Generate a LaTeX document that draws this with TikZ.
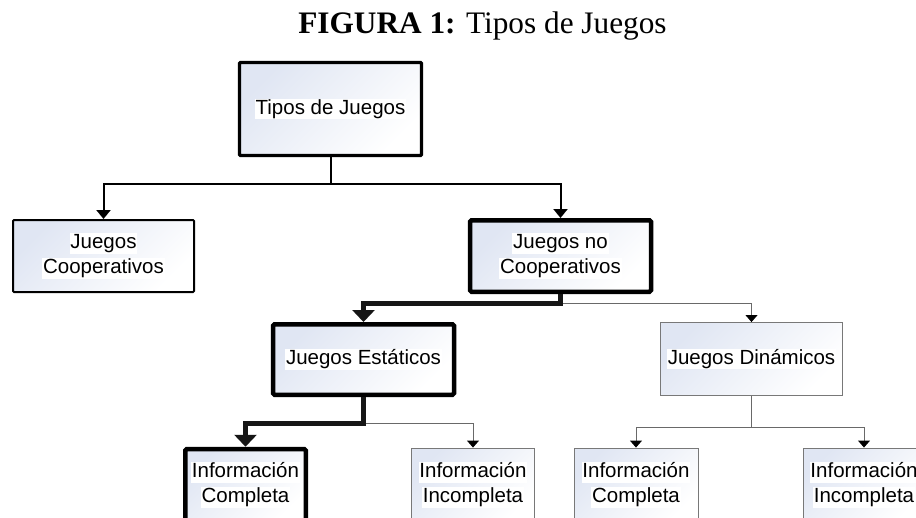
\documentclass[tikz,border=0pt]{standalone}
\usepackage{fontspec}
\setmainfont{Liberation Serif}
\newfontfamily\arialf{Liberation Sans}
\usetikzlibrary{arrows.meta}
\definecolor{boxtop}{RGB}{224,230,243}
\definecolor{thinline}{RGB}{105,105,105}
\definecolor{thinborder}{RGB}{120,120,120}
\definecolor{darkline}{RGB}{22,22,22}
\newcommand{\wb}[1]{{\setlength{\fboxsep}{0.8pt}\colorbox{white}{\vphantom{Jgó}#1}}}
\begin{document}
\begin{tikzpicture}[x=1pt,y=-1pt,
  box/.style={shape=rectangle, top color=boxtop, bottom color=white, shading angle=45,
    align=center, font=\arialf\fontsize{20.5}{25}\selectfont, inner sep=0pt, rounded corners=1pt},
  boldbox/.style={box, draw=black, line width=4.5pt, rounded corners=1.5pt},
  thinbox/.style={box, draw=thinborder, line width=0.9pt, rounded corners=0pt},
  toparrow/.style={draw=black, line width=2pt, -{Triangle[width=14pt,length=9pt]}},
  thickconn/.style={draw=darkline, line width=5.5pt, -{Triangle[width=22pt,length=12pt]}},
  thinconn/.style={draw=thinline, line width=1pt, -{Triangle[width=12pt,length=7pt,color=black]}}
]
\useasboundingbox (0,0) rectangle (916,517);
\fill[white] (0,0) rectangle (916,517);
\clip (0,0) rectangle (916,517);

\node[anchor=base, font=\fontsize{31.3}{36}\selectfont] (title) at (482.5,33) {\textbf{FIGURA 1:} Tipos de Juegos};

\node[box, draw=black, line width=3.3pt, minimum width=182pt, minimum height=93pt] (T) at (330.5,109) {\wb{Tipos de Juegos}};
\node[box, draw=black, line width=2pt, minimum width=181pt, minimum height=72pt] (JC) at (103.5,256) {\wb{Juegos}\\\wb{Cooperativos}};
\node[boldbox, minimum width=181pt, minimum height=71.5pt] (JNC) at (560.5,256) {\wb{Juegos no}\\\wb{Cooperativos}};
\node[boldbox, minimum width=181pt, minimum height=70.5pt] (JE) at (363.5,359.5) {\wb{Juegos Estáticos}};
\node[thinbox, minimum width=182pt, minimum height=73pt] (JD) at (751.5,359) {\wb{Juegos Dinámicos}};
\node[boldbox, minimum width=120.5pt, minimum height=72pt] (IC1) at (245.5,485) {\wb{Información}\\\wb{Completa}};
\node[thinbox, minimum width=123pt, minimum height=74pt] (II1) at (473,485) {\wb{Información}\\\wb{Incompleta}};
\node[thinbox, minimum width=124pt, minimum height=74pt] (IC2) at (636,485) {\wb{Información}\\\wb{Completa}};
\node[thinbox, minimum width=122pt, minimum height=74pt] (II2) at (864,485) {\wb{Información}\\\wb{Incompleta}};

\coordinate (j1) at (330.5,184);
\coordinate (j2) at (560.5,303.5);
\coordinate (j3) at (363.5,423.5);
\coordinate (j4) at (751.5,427);

\draw[toparrow] (T.south) -- (j1) -| (JC.north);
\draw[toparrow] (j1) -| (JNC.north);

\draw[thinconn] (j2) -| (JD.north);
\draw[thickconn] (JNC.south) -- (j2) -| (JE.north);

\draw[thinconn] (j3) -| (II1.north);
\draw[thickconn] (JE.south) -- (j3) -| (IC1.north);

\draw[thinconn, -] (JD.south) -- (j4);
\draw[thinconn] (j4) -| (IC2.north);
\draw[thinconn] (j4) -| (II2.north);
\end{tikzpicture}
\end{document}
